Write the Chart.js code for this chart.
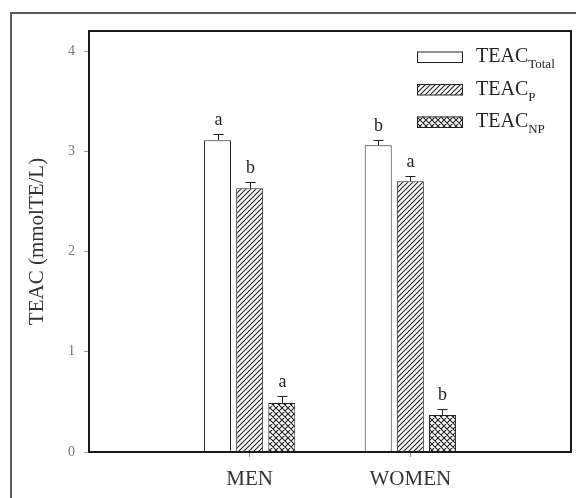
<!DOCTYPE html>
<html>
<head>
<meta charset="utf-8">
<script src="https://cdn.jsdelivr.net/npm/chart.js@4"></script>
<style>
  body { margin: 0; background: #fff; }
  canvas { display: block; }
</style>
</head>
<body>
<canvas id="myChart" width="576" height="498"></canvas>
<script>
const categories = ["MEN", "WOMEN"];
const totalValues = [3.11, 3.06];
const pValues = [2.63, 2.7];
const npValues = [0.49, 0.37];
const totalErrors = [0.06, 0.05];
const pErrors = [0.06, 0.05];
const npErrors = [0.07, 0.06];
const totalLetters = ["a", "b"];
const pLetters = ["b", "a"];
const npLetters = ["a", "b"];
const yTicks = [0, 1, 2, 3, 4];

const serif = "'Liberation Serif', 'Times New Roman', serif";
const canvas = document.getElementById("myChart");
const mainCtx = canvas.getContext("2d");

// empty slots on each side so the groups sit at 1/3 and 2/3 of the width
const pad = (arr) => [null, ...arr, null];

function makePattern(size, cross) {
  const c = document.createElement("canvas");
  c.width = size;
  c.height = size;
  const g = c.getContext("2d");
  g.fillStyle = "#fff";
  g.fillRect(0, 0, size, size);
  g.strokeStyle = "#222";
  g.lineWidth = 1.1;
  g.beginPath();
  g.moveTo(-1, size + 1);
  g.lineTo(size + 1, -1);
  g.moveTo(-1, 1);
  g.lineTo(1, -1);
  g.moveTo(size - 1, size + 1);
  g.lineTo(size + 1, size - 1);
  if (cross) {
    g.moveTo(-1, -1);
    g.lineTo(size + 1, size + 1);
    g.moveTo(size - 1, -1);
    g.lineTo(size + 1, 1);
    g.moveTo(-1, size - 1);
    g.lineTo(1, size + 1);
  }
  g.stroke();
  return mainCtx.createPattern(c, "repeat");
}

const hatch = makePattern(5, false);
const crossHatch = makePattern(6, true);

const errorBars = {
  id: "errorBars",
  afterDatasetsDraw(chart) {
    const ctx = chart.ctx;
    const y = chart.scales.y;
    ctx.save();
    ctx.strokeStyle = "#222";
    ctx.lineWidth = 1;
    ctx.fillStyle = "#222";
    ctx.font = "18px " + serif;
    ctx.textAlign = "center";
    ctx.textBaseline = "alphabetic";
    chart.data.datasets.forEach((ds, i) => {
      const meta = chart.getDatasetMeta(i);
      meta.data.forEach((bar, j) => {
        const v = ds.data[j];
        if (v == null) return;
        const x = Math.round(bar.x) + 0.5;
        const top = Math.round(y.getPixelForValue(v + ds.errors[j])) + 0.5;
        ctx.beginPath();
        ctx.moveTo(x, bar.y);
        ctx.lineTo(x, top);
        ctx.moveTo(x - 5, top);
        ctx.lineTo(x + 5, top);
        ctx.stroke();
        ctx.fillText(ds.letters[j], x, top - 10);
      });
    });
    ctx.restore();
  },
};

const frames = {
  id: "frames",
  beforeDraw(chart) {
    const ctx = chart.ctx;
    ctx.save();
    ctx.strokeStyle = "#5a5a5a";
    ctx.lineWidth = 2;
    ctx.strokeRect(11, 13, 700, 700);
    ctx.restore();
  },
  afterDatasetsDraw(chart) {
    const { ctx, chartArea: a } = chart;
    ctx.save();
    ctx.strokeStyle = "#1a1a1a";
    ctx.lineWidth = 2;
    ctx.strokeRect(a.left, a.top, a.right - a.left, a.bottom - a.top);
    ctx.restore();
  },
};

const legendBox = {
  id: "legendBox",
  afterDraw(chart) {
    const ctx = chart.ctx;
    const items = [
      { fill: "#fff", sub: "Total" },
      { fill: hatch, sub: "P" },
      { fill: crossHatch, sub: "NP" },
    ];
    ctx.save();
    items.forEach((it, i) => {
      const cy = 57 + i * 32.5;
      ctx.fillStyle = it.fill;
      ctx.fillRect(417, cy - 5.5, 46, 11);
      ctx.strokeStyle = "#222";
      ctx.lineWidth = 1;
      ctx.strokeRect(417.5, cy - 5, 45, 10.5);
      ctx.fillStyle = "#222";
      ctx.textAlign = "left";
      ctx.textBaseline = "alphabetic";
      ctx.font = "20px " + serif;
      ctx.fillText("TEAC", 476, cy + 5);
      const w = ctx.measureText("TEAC").width;
      ctx.font = "13px " + serif;
      ctx.fillText(it.sub, 476 + w, cy + 11);
    });
    ctx.restore();
  },
};

new Chart(canvas, {
  type: "bar",
  data: {
    labels: ["", ...categories, ""],
    datasets: [
      {
        label: "TEAC Total",
        data: pad(totalValues),
        errors: pad(totalErrors),
        letters: pad(totalLetters),
        backgroundColor: "#fff",
        borderColor: "#222",
        borderWidth: 1,
      },
      {
        label: "TEAC P",
        data: pad(pValues),
        errors: pad(pErrors),
        letters: pad(pLetters),
        backgroundColor: hatch,
        borderColor: "#222",
        borderWidth: 1,
      },
      {
        label: "TEAC NP",
        data: pad(npValues),
        errors: pad(npErrors),
        letters: pad(npLetters),
        backgroundColor: crossHatch,
        borderColor: "#222",
        borderWidth: 1,
      },
    ],
  },
  options: {
    responsive: false,
    animation: false,
    categoryPercentage: 0.6,
    barPercentage: 0.84,
    layout: {
      padding: { left: 0, top: 31, right: 5, bottom: 0 },
    },
    plugins: {
      legend: { display: false },
      tooltip: { enabled: false },
    },
    scales: {
      x: {
        offset: false,
        afterFit: (s) => {
          s.height = 46;
          s.paddingLeft = 0;
          s.paddingRight = 0;
        },
        grid: {
          offset: false,
          drawOnChartArea: false,
          tickLength: 5,
          color: (c) => (c.tick && c.tick.label ? "#999" : "transparent"),
        },
        border: { display: false },
        ticks: {
          color: "#333",
          padding: 10,
          maxRotation: 0,
          font: { family: serif, size: 21 },
        },
      },
      y: {
        min: 0,
        max: 4.2,
        afterFit: (s) => {
          s.width = 89;
        },
        afterBuildTicks: (s) => {
          s.ticks = yTicks.map((v) => ({ value: v }));
        },
        grid: {
          drawOnChartArea: false,
          tickLength: 5,
          color: "#999",
        },
        border: { display: false },
        ticks: {
          color: "#777",
          padding: 9,
          font: { family: serif, size: 14 },
        },
        title: {
          display: true,
          text: "TEAC (mmolTE/L)",
          color: "#333",
          padding: { top: 25, bottom: 0 },
          font: { family: serif, size: 21 },
        },
      },
    },
  },
  plugins: [frames, errorBars, legendBox],
});
</script>
</body>
</html>
